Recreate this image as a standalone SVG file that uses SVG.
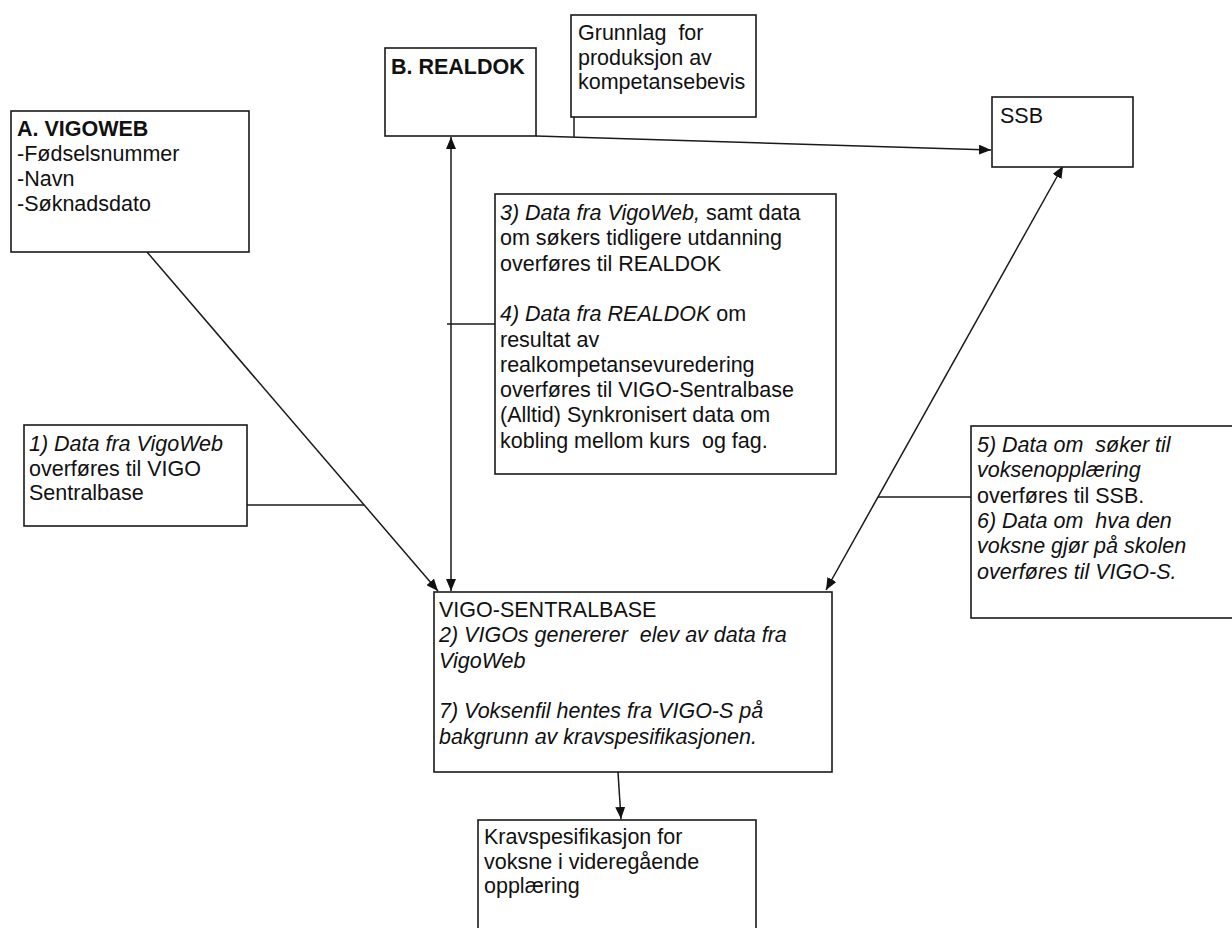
<svg xmlns="http://www.w3.org/2000/svg" width="1232" height="928" viewBox="0 0 1232 928">
<style>
.box{fill:#fff;stroke:#1a1a1a;stroke-width:1.6}
.ln{fill:none;stroke:#1a1a1a;stroke-width:1.5}
text{font-family:"Liberation Sans",Arial,sans-serif;font-size:21.5px;fill:#111;white-space:pre}
.b{font-weight:bold}
.i{font-style:italic}
</style>
<defs>
<marker id="ah" viewBox="0 0 12 10" markerWidth="12" markerHeight="10" refX="12" refY="5" orient="auto-start-reverse" markerUnits="userSpaceOnUse">
<path d="M0,0 L12,5 L0,10 z" fill="#111"/>
</marker>
</defs>
<rect width="1232" height="928" fill="#fff"/>

<g id="connectors">
<line class="ln" x1="147" y1="252" x2="438" y2="591" marker-end="url(#ah)"/>
<line class="ln" x1="247" y1="505" x2="364" y2="505"/>
<line class="ln" x1="451" y1="137" x2="451" y2="591" marker-start="url(#ah)" marker-end="url(#ah)"/>
<line class="ln" x1="447" y1="324" x2="495" y2="324"/>
<line class="ln" x1="536" y1="136" x2="991" y2="150" marker-end="url(#ah)"/>
<line class="ln" x1="574" y1="117" x2="574" y2="137"/>
<line class="ln" x1="826" y1="590" x2="1063" y2="166" marker-start="url(#ah)" marker-end="url(#ah)"/>
<line class="ln" x1="878" y1="497" x2="971" y2="497"/>
<line class="ln" x1="618" y1="772" x2="621" y2="819" marker-end="url(#ah)"/>
</g>

<g id="vigoweb">
<rect class="box" x="11" y="111" width="238" height="141"/>
<text x="17" y="136"><tspan class="b">A. VIGOWEB</tspan><tspan x="17" dy="25">-Fødselsnummer</tspan><tspan x="17" dy="25">-Navn</tspan><tspan x="17" dy="25">-Søknadsdato</tspan></text>
</g>

<g id="realdok">
<rect class="box" x="385" y="48" width="151" height="88"/>
<text x="391" y="74" class="b">B. REALDOK</text>
</g>

<g id="grunnlag">
<rect class="box" x="571" y="15" width="185" height="102"/>
<text x="578" y="40">Grunnlag  for<tspan x="578" dy="24.5">produksjon av</tspan><tspan x="578" dy="24.5">kompetansebevis</tspan></text>
</g>

<g id="ssb">
<rect class="box" x="992" y="97" width="141" height="70"/>
<text x="1000" y="123">SSB</text>
</g>

<g id="note34">
<rect class="box" x="495" y="194" width="341" height="280"/>
<text x="500" y="220"><tspan class="i">3) Data fra VigoWeb,</tspan> samt data<tspan x="500" dy="25.3">om søkers tidligere utdanning</tspan><tspan x="500" dy="25.3">overføres til REALDOK</tspan><tspan x="500" dy="50.6" class="i">4) Data fra REALDOK</tspan> om<tspan x="500" dy="25.3">resultat av</tspan><tspan x="500" dy="25.3">realkompetansevuredering</tspan><tspan x="500" dy="25.3">overføres til VIGO-Sentralbase</tspan><tspan x="500" dy="25.3">(Alltid) Synkronisert data om</tspan><tspan x="500" dy="25.3">kobling mellom kurs  og fag.</tspan></text>
</g>

<g id="note1">
<rect class="box" x="24" y="425" width="223" height="101"/>
<text x="29" y="451"><tspan class="i">1) Data fra VigoWeb</tspan><tspan x="29" dy="24.5">overføres til VIGO</tspan><tspan x="29" dy="24.5">Sentralbase</tspan></text>
</g>

<g id="note56">
<rect class="box" x="971" y="426" width="262" height="192"/>
<text x="977" y="452"><tspan class="i">5) Data om  søker til</tspan><tspan x="977" dy="25.3" class="i">voksenopplæring</tspan><tspan x="977" dy="25.3">overføres til SSB.</tspan><tspan x="977" dy="25.3" class="i">6) Data om  hva den</tspan><tspan x="977" dy="25.3" class="i">voksne gjør på skolen</tspan><tspan x="977" dy="25.3" class="i">overføres til VIGO-S.</tspan></text>
</g>

<g id="vigo-sentralbase">
<rect class="box" x="434" y="592" width="398" height="180"/>
<text x="439" y="617">VIGO-SENTRALBASE<tspan x="439" dy="25.3" class="i">2) VIGOs genererer  elev av data fra</tspan><tspan x="439" dy="25.3" class="i">VigoWeb</tspan><tspan x="439" dy="50.6" class="i">7) Voksenfil hentes fra VIGO-S på</tspan><tspan x="439" dy="25.3" class="i">bakgrunn av kravspesifikasjonen.</tspan></text>
</g>

<g id="kravspesifikasjon">
<rect class="box" x="478" y="820" width="278" height="120"/>
<text x="484" y="844">Kravspesifikasjon for<tspan x="484" dy="24.5">voksne i videregående</tspan><tspan x="484" dy="24.5">opplæring</tspan></text>
</g>
</svg>
